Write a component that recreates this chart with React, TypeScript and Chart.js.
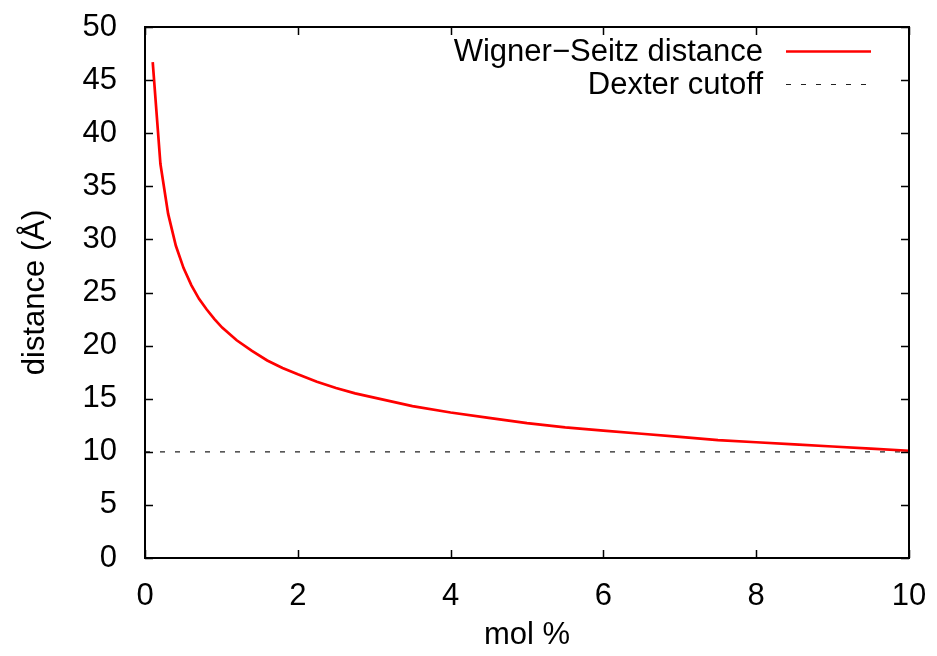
import React, { useEffect, useRef } from "react";
import { Chart, registerables } from "chart.js";

Chart.register(...registerables);

// Data
const molPercent = [0.101, 0.202, 0.303, 0.404, 0.505, 0.606, 0.707, 0.808, 0.909, 1.01, 1.2, 1.4, 1.6, 1.8, 2, 2.25, 2.5, 2.75, 3, 3.5, 4, 4.5, 5, 5.5, 6, 6.5, 7, 7.5, 8, 8.5, 9, 9.5, 10];
const wsDistance = [46.7, 37.1, 32.4, 29.4, 27.3, 25.7, 24.4, 23.4, 22.5, 21.7, 20.5, 19.5, 18.6, 17.9, 17.3, 16.6, 16.0, 15.5, 15.1, 14.3, 13.7, 13.2, 12.7, 12.3, 12.0, 11.7, 11.4, 11.1, 10.9, 10.7, 10.5, 10.3, 10.1];
const dexterX = [0, 10];
const dexterY = [10, 10];
const seriesLabels = ["Wigner\u2212Seitz distance", "Dexter cutoff"];
const xTickValues = [0, 2, 4, 6, 8, 10];
const yTickValues = [0, 5, 10, 15, 20, 25, 30, 35, 40, 45, 50];
const xTitle = "mol %";
const yTitle = "distance (\u00C5)";

const FONT = "'Liberation Sans', Arial, Helvetica, sans-serif";
const FS = 31;

const framePlugin = {
  id: "gnuFrame",
  afterDraw(chart: any) {
    const ctx = chart.ctx;
    const { left, top, right, bottom } = chart.chartArea;
    const xs = chart.scales.x;
    const ys = chart.scales.y;
    ctx.save();
    ctx.strokeStyle = "#000";
    ctx.lineWidth = 1.5;
    ctx.setLineDash([]);
    const tl = 8;
    ctx.beginPath();
    xs.ticks.forEach((t: any) => {
      const px = Math.round(xs.getPixelForValue(t.value)) + 0.5;
      ctx.moveTo(px, bottom);
      ctx.lineTo(px, bottom - tl);
      ctx.moveTo(px, top);
      ctx.lineTo(px, top + tl);
    });
    ys.ticks.forEach((t: any) => {
      const py = Math.round(ys.getPixelForValue(t.value)) + 0.5;
      ctx.moveTo(left, py);
      ctx.lineTo(left + tl, py);
      ctx.moveTo(right, py);
      ctx.lineTo(right - tl, py);
    });
    ctx.stroke();
    ctx.lineWidth = 2;
    ctx.strokeRect(left, top, right - left, bottom - top);

    // legend (gnuplot style: right-aligned text, sample on the right)
    const textRight = 763;
    const sx0 = 786;
    const sx1 = 871;
    const rows = [51, 84];
    ctx.font = `${FS}px ${FONT}`;
    ctx.fillStyle = "#000";
    ctx.textAlign = "right";
    ctx.textBaseline = "middle";
    chart.data.datasets.forEach((ds: any, i: number) => {
      const y = rows[i];
      ctx.fillText(ds.label, textRight, y + 1);
      ctx.beginPath();
      ctx.strokeStyle = ds.borderColor;
      ctx.lineWidth = ds.borderWidth;
      ctx.setLineDash(ds.borderDash || []);
      ctx.moveTo(sx0, y + 0.5);
      ctx.lineTo(sx1, y + 0.5);
      ctx.stroke();
    });
    ctx.restore();
  },
};

export default function App() {
  const ref = useRef<HTMLCanvasElement>(null);
  useEffect(() => {
    if (!ref.current) return;
    const chart = new Chart(ref.current, {
      type: "line",
      data: {
        datasets: [
          {
            label: seriesLabels[0],
            data: molPercent.map((x, i) => ({ x, y: wsDistance[i] })),
            borderColor: "#ff0000",
            borderWidth: 2.7,
            pointRadius: 0,
            tension: 0,
            fill: false,
          },
          {
            label: seriesLabels[1],
            data: dexterX.map((x, i) => ({ x, y: dexterY[i] })),
            borderColor: "#222222",
            borderWidth: 1.2,
            borderDash: [5, 10],
            pointRadius: 0,
            fill: false,
          },
        ],
      },
      options: {
        responsive: false,
        animation: false,
        devicePixelRatio: 1,
        layout: { padding: { left: 0, top: 27, right: 28, bottom: 0 } },
        plugins: { legend: { display: false }, tooltip: { enabled: false } },
        scales: {
          x: {
            type: "linear",
            min: 0,
            max: 10,
            grid: { display: false },
            border: { display: false },
            afterBuildTicks: (s: any) => {
              s.ticks = xTickValues.map((v) => ({ value: v }));
            },
            afterFit: (s: any) => {
              s.height = 98;
              s.paddingLeft = 0;
              s.paddingRight = 0;
            },
            ticks: {
              color: "#000",
              font: { family: FONT, size: FS },
              padding: 12,
              maxRotation: 0,
              callback: (v: any) => String(v),
            },
            title: {
              display: true,
              text: xTitle,
              color: "#000",
              font: { family: FONT, size: FS },
              padding: { top: 0, bottom: 2 },
            },
          },
          y: {
            type: "linear",
            min: 0,
            max: 50,
            grid: { display: false },
            border: { display: false },
            afterBuildTicks: (s: any) => {
              s.ticks = yTickValues.map((v) => ({ value: v }));
            },
            afterFit: (s: any) => {
              s.width = 145;
              s.paddingTop = 0;
              s.paddingBottom = 0;
            },
            ticks: {
              color: "#000",
              font: { family: FONT, size: FS },
              padding: 20,
              callback: (v: any) => String(v),
            },
            title: {
              display: true,
              text: yTitle,
              color: "#000",
              font: { family: FONT, size: FS },
              padding: { top: 17, bottom: 0 },
            },
          },
        },
      },
      plugins: [framePlugin],
    } as any);
    return () => chart.destroy();
  }, []);
  return (
    <div style={{ position: "fixed", left: 0, top: 0, width: 937, height: 656, background: "#fff" }}>
      <canvas ref={ref} width={937} height={656} style={{ width: 937, height: 656, display: "block" }} />
    </div>
  );
}
